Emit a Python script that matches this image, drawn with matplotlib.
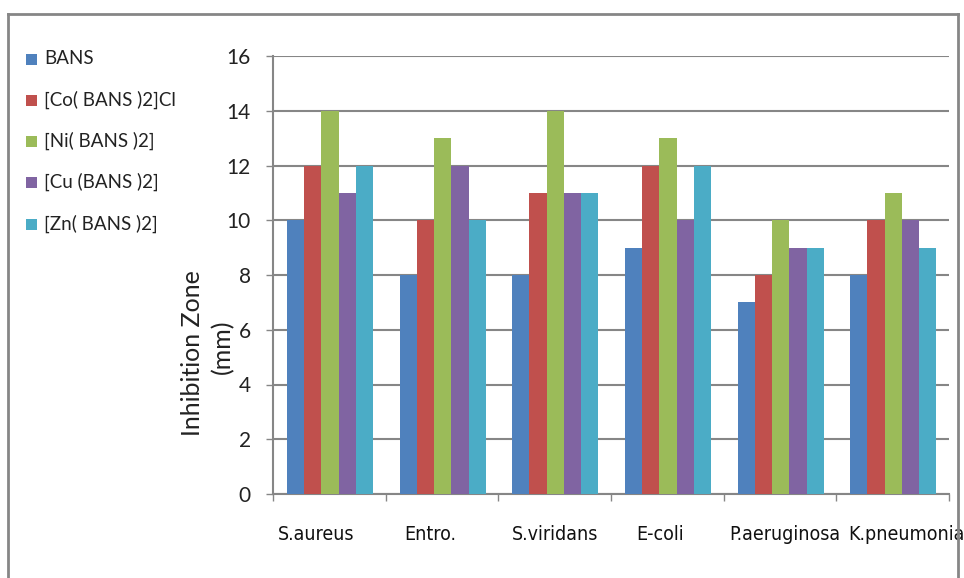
import matplotlib
matplotlib.use("Agg")
import matplotlib.pyplot as plt
import matplotlib.transforms as mtransforms
from matplotlib.lines import Line2D
from matplotlib.patches import Rectangle
import numpy as np

# inhibition zone (mm) per organism for each compound
organisms = ["S.aureus", "Entro.", "S.viridans", "E-coli", "P.aeruginosa", "K.pneumonia"]
compounds = ["BANS", "[Co( BANS )2]Cl", "[Ni( BANS )2]", "[Cu (BANS )2]", "[Zn( BANS )2]"]
bans = [10, 8, 8, 9, 7, 8]
co_bans = [12, 10, 11, 12, 8, 10]
ni_bans = [14, 13, 14, 13, 10, 11]
cu_bans = [11, 12, 11, 10, 9, 10]
zn_bans = [12, 10, 11, 12, 9, 9]
series = [bans, co_bans, ni_bans, cu_bans, zn_bans]
colors = ["#4F81BD", "#C0504D", "#9BBB59", "#8064A2", "#4BACC6"]
yticks = [0, 2, 4, 6, 8, 10, 12, 14, 16]

plt.rcParams["font.family"] = ["Lato", "DejaVu Sans"]
grid_col = "#868686"

W, H = 964, 578
fig = plt.figure(figsize=(W / 100, H / 100), dpi=100)


def px(x, y):
    # pixel position (from top-left) -> figure fraction
    return x / W, 1 - y / H


l, t = px(273, 56)
r, b = px(949, 494)
ax = fig.add_axes([l, b, r - l, t - b])

n = len(compounds)
bw = 0.153
xs = np.arange(len(organisms)) + 0.506
for i, (vals, c) in enumerate(zip(series, colors)):
    ax.bar(xs + (i - (n - 1) / 2) * bw, vals, width=bw, color=c,
           edgecolor="none", zorder=3)

ax.set_xlim(0, len(organisms))
ax.set_ylim(0, 16)
ax.set_yticks(yticks)
ax.yaxis.grid(True, color=grid_col, linewidth=1.5, zorder=0)
ax.set_axisbelow(True)

for s in ["top", "right"]:
    ax.spines[s].set_visible(False)
for s in ["left", "bottom"]:
    ax.spines[s].set_color(grid_col)
    ax.spines[s].set_linewidth(1.5)

ax.tick_params(axis="y", length=5, width=1, color=grid_col, pad=11,
               labelsize=15, labelcolor="#222222")

# category labels at the centres, tick marks on the boundaries
ax.set_xticks(xs)
ax.set_xticklabels(organisms, fontsize=14, family="DejaVu Sans", fontstretch="condensed")
ax.tick_params(axis="x", length=0, pad=22, labelcolor="#111111")
ax.set_xticks(np.arange(len(organisms) + 1), minor=True)
ax.tick_params(axis="x", which="minor", length=5, width=1, color=grid_col)

# nudge the category labels sideways (pixels) the way the layout spreads them
label_shift = [-14, -12, 0, -8, 4, 13]
for lab, dx in zip(ax.get_xticklabels(), label_shift):
    lab.set_transform(lab.get_transform() +
                      mtransforms.ScaledTranslation(dx / 100, 0, fig.dpi_scale_trans))

# y axis title
fig.text(*px(193, 353), "Inhibition Zone", rotation=90, ha="center", va="center",
         fontsize=18, color="#222222")
fig.text(*px(223, 347), "(mm)", rotation=90, ha="center", va="center",
         fontsize=18, color="#222222")

# legend on the left
leg_y = [59, 100, 141, 182, 224]
for name, c, y in zip(compounds, colors, leg_y):
    x0, y0 = px(26, y + 6)
    fig.add_artist(Rectangle((x0, y0), 11 / W, 11 / H, transform=fig.transFigure,
                             facecolor=c, edgecolor="none"))
    fig.text(*px(44, y), name, ha="left", va="center", fontsize=13.5, color="#222222")

# chart border
bx0, by0 = px(8, 14)
bx1, by1 = px(958, H)
for xd, yd in [([bx0, bx1], [by0, by0]), ([bx0, bx0], [by0, by1]), ([bx1, bx1], [by0, by1])]:
    fig.add_artist(Line2D(xd, yd, transform=fig.transFigure, color=grid_col, linewidth=2))

fig.savefig("out.png", dpi=100)
